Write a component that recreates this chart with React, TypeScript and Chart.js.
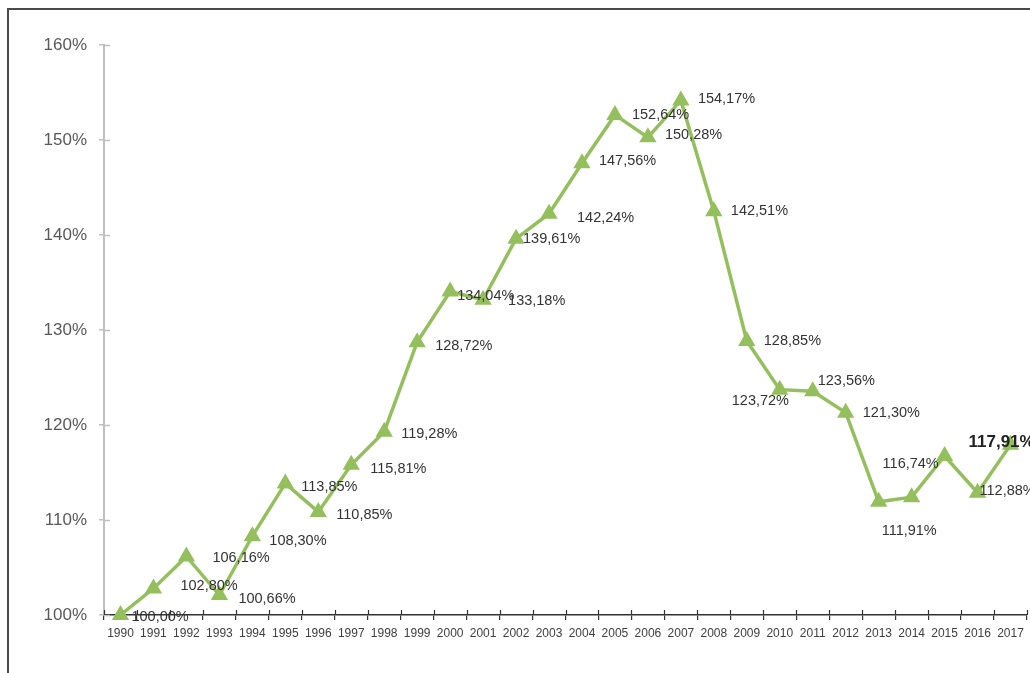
import { useEffect, useRef } from 'react';
import { Chart, registerables } from 'chart.js';

Chart.register(...registerables);

const years = [
  '1990', '1991', '1992', '1993', '1994', '1995', '1996', '1997', '1998', '1999',
  '2000', '2001', '2002', '2003', '2004', '2005', '2006', '2007', '2008', '2009',
  '2010', '2011', '2012', '2013', '2014', '2015', '2016', '2017',
];

const values = [
  100.0, 102.8, 106.16, 102.1, 108.3, 113.85, 110.85, 115.81, 119.28, 128.72,
  134.04, 133.18, 139.61, 142.24, 147.56, 152.64, 150.28, 154.17, 142.51, 128.85,
  123.72, 123.56, 121.3, 111.91, 112.4, 116.74, 112.88, 117.91,
];

const labelTexts = [
  '100,00%', '102,80%', '106,16%', '100,66%', '108,30%', '113,85%', '110,85%', '115,81%', '119,28%', '128,72%',
  '134,04%', '133,18%', '139,61%', '142,24%', '147,56%', '152,64%', '150,28%', '154,17%', '142,51%', '128,85%',
  '123,72%', '123,56%', '121,30%', '111,91%', '', '116,74%', '112,88%', '117,91%',
];

const yTickValues = [100, 110, 120, 130, 140, 150, 160];

// label placement relative to each point (layout only)
const labelOffsets: [number, number][] = [
  [11, 2], [27, -2], [26, 2], [19, 4], [17, 5], [16, 4], [18, 3], [19, 4], [17, 2], [18, 4],
  [7, 4], [25, 1], [7, 0], [28, 4], [17, -2], [17, 0], [17, -2], [17, -1], [17, 0], [17, 0],
  [-48, 11], [5, -10], [17, 0], [3, 29], [0, 0], [-62, 8], [2, -2], [-42, -3],
];
const boldIndex = 27;

const GREEN = '#94BF5D';

const labelPlugin = {
  id: 'pointLabels',
  afterDatasetsDraw(chart: any) {
    const ctx = chart.ctx;
    const meta = chart.getDatasetMeta(0);
    ctx.save();
    ctx.textBaseline = 'middle';
    ctx.textAlign = 'left';
    meta.data.forEach((pt: any, i: number) => {
      const t = labelTexts[i];
      if (!t) return;
      const [dx, dy] = labelOffsets[i];
      if (i === boldIndex) {
        ctx.font = 'bold 17px "Liberation Sans", Arial, sans-serif';
        ctx.fillStyle = '#222';
      } else {
        ctx.font = '14.5px "Liberation Sans", Arial, sans-serif';
        ctx.fillStyle = '#333';
      }
      ctx.fillText(t, pt.x + dx, pt.y + dy);
    });
    ctx.restore();
  },
};

const innerTicksPlugin = {
  id: 'innerTicks',
  afterDraw(chart: any) {
    const ctx = chart.ctx;
    const area = chart.chartArea;
    const y = chart.scales.y;
    ctx.save();
    ctx.lineWidth = 1.5;
    ctx.strokeStyle = '#BFBFBF';
    yTickValues.forEach((v) => {
      const py = Math.round(y.getPixelForValue(v)) + 0.5;
      ctx.beginPath();
      ctx.moveTo(area.left, py);
      ctx.lineTo(area.left + 6, py);
      ctx.stroke();
    });
    ctx.strokeStyle = '#333';
    ctx.lineWidth = 1.2;
    const n = years.length;
    const w = (area.right - area.left) / n;
    for (let k = 0; k <= n; k++) {
      const px = Math.round(area.left + k * w) + 0.5;
      ctx.beginPath();
      ctx.moveTo(px, area.bottom);
      ctx.lineTo(px, area.bottom - 5);
      ctx.stroke();
    }
    ctx.restore();
  },
};

export default function App() {
  const ref = useRef<HTMLCanvasElement | null>(null);

  useEffect(() => {
    if (!ref.current) return;
    const chart = new Chart(ref.current, {
      type: 'line',
      data: {
        labels: years,
        datasets: [
          {
            data: values,
            borderColor: GREEN,
            backgroundColor: GREEN,
            borderWidth: 3.5,
            pointStyle: 'triangle',
            pointRadius: 8,
            pointBorderWidth: 2,
            pointBackgroundColor: GREEN,
            pointBorderColor: GREEN,
            tension: 0,
            clip: false as any,
          },
        ],
      },
      options: {
        responsive: false,
        animation: false,
        layout: { autoPadding: false, padding: { left: 0, right: 3, top: 45, bottom: 0 } },
        plugins: {
          legend: { display: false },
          tooltip: { enabled: false },
        },
        scales: {
          x: {
            type: 'category',
            offset: true,
            grid: {
              offset: true,
              drawOnChartArea: false,
              drawTicks: true,
              tickLength: 5,
              color: '#333',
              lineWidth: 1.2,
            },
            border: { display: true, color: '#333', width: 1.5 },
            ticks: {
              autoSkip: false,
              maxRotation: 0,
              minRotation: 0,
              padding: 6,
              color: '#404040',
              font: { family: '"Liberation Sans", Arial, sans-serif', size: 12 },
            },
            afterFit: (s: any) => {
              s.height = 58;
              s.paddingLeft = 0;
              s.paddingRight = 0;
            },
          },
          y: {
            min: 100,
            max: 160,
            afterBuildTicks: (s: any) => {
              s.ticks = yTickValues.map((v) => ({ value: v }));
            },
            grid: {
              drawOnChartArea: false,
              drawTicks: true,
              tickLength: 5,
              color: '#BFBFBF',
              lineWidth: 1.5,
            },
            border: { display: true, color: '#BFBFBF', width: 2 },
            ticks: {
              padding: 12,
              color: '#595959',
              font: { family: '"Liberation Sans", Arial, sans-serif', size: 17 },
              callback: (v: any) => v + '%',
            },
            afterFit: (s: any) => {
              s.width = 104;
              s.paddingTop = 0;
              s.paddingBottom = 0;
            },
          },
        },
      },
      plugins: [innerTicksPlugin, labelPlugin],
    });
    return () => chart.destroy();
  }, []);

  return (
    <div>
      <div
        style={{
          position: 'fixed',
          left: 7,
          top: 8,
          width: 1040,
          height: 700,
          borderTop: '2px solid #4a4a4a',
          borderLeft: '2px solid #4a4a4a',
          background: '#fff',
        }}
      />
      <canvas
        ref={ref}
        width={1030}
        height={673}
        style={{ position: 'fixed', left: 0, top: 0, width: 1030, height: 673 }}
      />
    </div>
  );
}
